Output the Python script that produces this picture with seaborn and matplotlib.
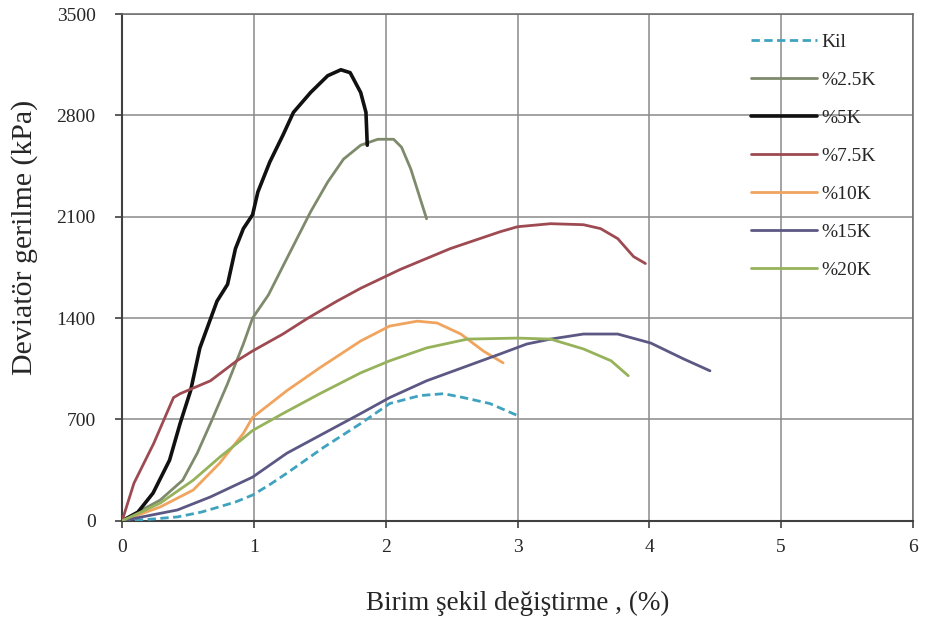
import matplotlib
matplotlib.use("Agg")
import matplotlib.pyplot as plt
import seaborn as sns
import pandas as pd

# ---- data (strain %, deviator stress kPa) ----
kil_x = [0, 0.20, 0.42, 0.60, 0.72, 0.86, 0.99, 1.12, 1.25, 1.53, 1.81, 2.03, 2.26, 2.44, 2.59, 2.79, 3.0]
kil_y = [0, 10, 27, 60, 92, 130, 178, 250, 329, 508, 672, 810, 865, 878, 851, 810, 727]

k25_x = [0, 0.29, 0.46, 0.57, 0.67, 0.80, 0.92, 0.99, 1.11, 1.25, 1.43, 1.56, 1.68, 1.81, 1.94, 2.06, 2.12, 2.19, 2.31]
k25_y = [0, 144, 281, 467, 672, 947, 1221, 1400, 1560, 1812, 2134, 2340, 2498, 2594, 2635, 2635, 2580, 2430, 2086]

k5_x = [0, 0.12, 0.235, 0.36, 0.44, 0.52, 0.59, 0.72, 0.80, 0.86, 0.92, 0.99, 1.03, 1.12, 1.22, 1.30, 1.43, 1.56, 1.66, 1.73, 1.81, 1.85, 1.86]
k5_y = [0, 60, 192, 419, 672, 900, 1194, 1517, 1633, 1880, 2018, 2114, 2271, 2477, 2663, 2821, 2958, 3074, 3115, 3095, 2958, 2821, 2594]

k75_x = [0, 0.09, 0.24, 0.39, 0.44, 0.67, 0.87, 0.99, 1.22, 1.41, 1.63, 1.81, 2.11, 2.49, 2.87, 3.0, 3.25, 3.50, 3.63, 3.76, 3.88, 3.97]
k75_y = [0, 260, 535, 851, 878, 967, 1105, 1173, 1290, 1400, 1517, 1606, 1736, 1880, 1997, 2031, 2052, 2045, 2018, 1949, 1825, 1777]

k10_x = [0, 0.29, 0.54, 0.74, 0.92, 0.99, 1.25, 1.50, 1.81, 2.03, 2.24, 2.39, 2.57, 2.74, 2.89]
k10_y = [0, 96, 213, 398, 604, 714, 899, 1057, 1242, 1345, 1379, 1366, 1290, 1173, 1091]

k15_x = [0, 0.42, 0.67, 0.99, 1.25, 1.53, 1.81, 2.03, 2.31, 2.62, 2.87, 3.07, 3.25, 3.50, 3.76, 4.01, 4.26, 4.46]
k15_y = [0, 75, 165, 302, 467, 604, 741, 851, 967, 1070, 1153, 1221, 1255, 1290, 1290, 1228, 1118, 1036]

k20_x = [0, 0.29, 0.54, 0.74, 0.90, 0.99, 1.22, 1.50, 1.81, 2.03, 2.31, 2.62, 3.0, 3.25, 3.50, 3.71, 3.84]
k20_y = [0, 123, 281, 439, 556, 624, 741, 878, 1022, 1105, 1194, 1255, 1262, 1255, 1187, 1105, 1002]

labels = ["Kil", "%2.5K", "%5K", "%7.5K", "%10K", "%15K", "%20K"]
colors = ["#3FA3BF", "#7E8A6C", "#111111", "#9E4A52", "#F0A45E", "#5B5884", "#96B25A"]
xs = [kil_x, k25_x, k5_x, k75_x, k10_x, k15_x, k20_x]
ys = [kil_y, k25_y, k5_y, k75_y, k10_y, k15_y, k20_y]

x_ticks = [0, 1, 2, 3, 4, 5, 6]
y_ticks = [0, 700, 1400, 2100, 2800, 3500]

rows = []
for lab, xx, yy in zip(labels, xs, ys):
    for i, (a, b) in enumerate(zip(xx, yy)):
        rows.append({"series": lab, "x": a, "y": b, "i": i})
df = pd.DataFrame(rows)

sns.set_style("white")
plt.rcParams["font.family"] = ["Liberation Serif", "DejaVu Serif"]

fig = plt.figure(figsize=(9.25, 6.23), dpi=100)
ax = fig.add_axes([0.132, 0.164, 0.855, 0.8135])

for lab, col in zip(labels, colors):
    sub = df[df["series"] == lab]
    lw = 2.6 if lab == "%5K" else 2.0
    ls = (0, (3, 1.6)) if lab == "Kil" else "-"
    sns.lineplot(data=sub, x="x", y="y", sort=False, estimator=None, ax=ax,
                 color=col, linewidth=lw, linestyle=ls, label=lab, zorder=3)

ax.set_xlim(0, 6)
ax.set_ylim(0, 3500)
ax.set_xticks(x_ticks)
ax.set_yticks(y_ticks)
ax.set_xticklabels([str(t) for t in x_ticks], fontsize=14)
ax.set_yticklabels([str(t) for t in y_ticks], fontsize=14)
ax.grid(True, color="#8a8a8a", linewidth=1.1, zorder=0)
ax.set_axisbelow(True)
for s in ax.spines.values():
    s.set_color("#6a6a6a")
    s.set_linewidth(1.1)
ax.spines["left"].set_color("#404040")
ax.spines["bottom"].set_color("#404040")
ax.spines["left"].set_linewidth(1.5)
ax.spines["bottom"].set_linewidth(1.5)
ax.tick_params(axis="both", direction="out", length=5, width=1.2, color="#404040",
               left=True, bottom=True, pad=8)
ax.tick_params(axis="y", pad=14)

ax.set_xlabel("Birim şekil değiştirme , (%)", fontsize=19.5, labelpad=25)
ax.set_ylabel("Deviatör gerilme (kPa)", fontsize=21.5)
ax.yaxis.set_label_coords(-0.106, 0.56)

leg = ax.legend(loc="upper left", bbox_to_anchor=(0.785, 0.977), frameon=False,
                fontsize=14, handlelength=3.4, handletextpad=0.25,
                labelspacing=1.05, borderaxespad=0)

fig.savefig("out.png", dpi=100)
